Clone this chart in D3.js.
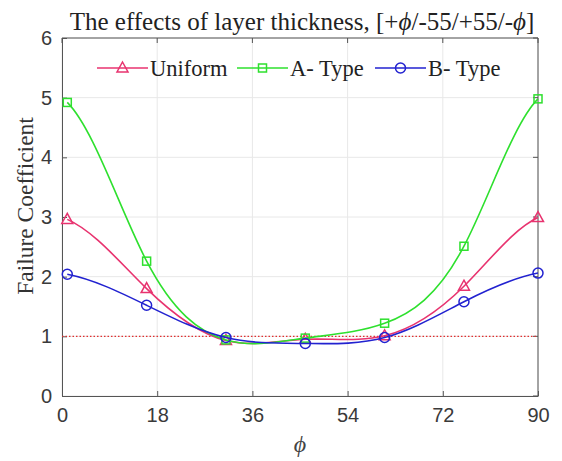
<!DOCTYPE html>
<html><head><meta charset="utf-8">
<script src="https://cdn.jsdelivr.net/npm/d3@7"></script>
<style>body{margin:0;background:#fff}svg{display:block}</style>
</head><body><svg id="c" width="562" height="461"></svg>
<script>
const phi = [1, 16, 31, 46, 61, 76, 90];
const uniform = [2.96, 1.80, 0.93, 0.95, 1.01, 1.84, 2.99];
const aType = [4.92, 2.26, 0.94, 0.97, 1.22, 2.51, 4.98];
const bType = [2.04, 1.52, 0.98, 0.88, 0.98, 1.58, 2.06];
const xTicks = [0, 18, 36, 54, 72, 90];
const yTicks = [0, 1, 2, 3, 4, 5, 6];
const seriesNames = ["Uniform", "A- Type", "B- Type"];
const seriesColors = ["#e8336f", "#2ee02e", "#2222d0"];
const seriesMarkers = ["triangle", "square", "circle"];
const refLine = 1;

// clamped cubic spline curve for d3.line (end slopes = half the end secant slopes)
function ClampedSpline(context) { this._context = context; }
ClampedSpline.prototype = {
  areaStart() {}, areaEnd() {},
  lineStart() { this._x = []; this._y = []; },
  point(x, y) { this._x.push(+x); this._y.push(+y); },
  lineEnd() {
    const X = this._x, Y = this._y, n = X.length, c = this._context;
    if (!n) return;
    c.moveTo(X[0], Y[0]);
    if (n === 1) return;
    const h = [], d = [];
    for (let i = 0; i < n - 1; i++) { h[i] = X[i + 1] - X[i]; d[i] = (Y[i + 1] - Y[i]) / h[i]; }
    const a = new Array(n).fill(0), b = new Array(n).fill(1), cc = new Array(n).fill(0), r = new Array(n).fill(0);
    r[0] = 0.5 * d[0]; r[n - 1] = 0.5 * d[n - 2];
    for (let i = 1; i < n - 1; i++) {
      a[i] = h[i]; b[i] = 2 * (h[i - 1] + h[i]); cc[i] = h[i - 1];
      r[i] = 3 * (h[i] * d[i - 1] + h[i - 1] * d[i]);
    }
    for (let i = 1; i < n; i++) {
      const w = a[i] / b[i - 1];
      b[i] -= w * cc[i - 1]; r[i] -= w * r[i - 1];
    }
    const m = new Array(n);
    m[n - 1] = r[n - 1] / b[n - 1];
    for (let i = n - 2; i >= 0; i--) m[i] = (r[i] - cc[i] * m[i + 1]) / b[i];
    for (let i = 0; i < n - 1; i++) {
      c.bezierCurveTo(X[i] + h[i] / 3, Y[i] + m[i] * h[i] / 3,
                      X[i + 1] - h[i] / 3, Y[i + 1] - m[i + 1] * h[i] / 3,
                      X[i + 1], Y[i + 1]);
    }
  }
};
const curveClamped = ctx => new ClampedSpline(ctx);

const svg = d3.select("#c");
const L = 62, R = 538, T = 38, B = 396;
const x = d3.scaleLinear().domain([0, 90]).range([L, R]);
const y = d3.scaleLinear().domain([0, 6]).range([B, T]);

// grid
const g = svg.append("g");
g.selectAll(".gx").data(xTicks).join("line")
  .attr("x1", d => x(d)).attr("x2", d => x(d)).attr("y1", T).attr("y2", B)
  .attr("stroke", "#e8e8e8").attr("stroke-width", 1);
g.selectAll(".gy").data(yTicks).join("line")
  .attr("x1", L).attr("x2", R).attr("y1", d => y(d)).attr("y2", d => y(d))
  .attr("stroke", "#e8e8e8").attr("stroke-width", 1);

// axes
const axFont = "'Liberation Sans', Arial, sans-serif";
const xa = svg.append("g").attr("transform", `translate(0,${B})`)
  .call(d3.axisBottom(x).tickValues(xTicks).tickFormat(d3.format("d")).tickSizeInner(-5).tickSizeOuter(0).tickPadding(12));
const ya = svg.append("g").attr("transform", `translate(${L},0)`)
  .call(d3.axisLeft(y).tickValues(yTicks).tickFormat(d3.format("d")).tickSizeInner(-5).tickSizeOuter(0).tickPadding(10));
[xa, ya].forEach(a => {
  a.selectAll("text").attr("font-family", axFont).attr("font-size", 20).attr("fill", "#3a3a3a");
  a.selectAll("line").attr("stroke", "#555");
  a.select(".domain").attr("stroke", "#555");
});
svg.append("line").attr("x1", L).attr("x2", R).attr("y1", T).attr("y2", T).attr("stroke", "#555");
svg.append("line").attr("x1", R).attr("x2", R).attr("y1", T).attr("y2", B).attr("stroke", "#555");
svg.selectAll(".tt").data(xTicks).join("line")
  .attr("x1", d => x(d)).attr("x2", d => x(d)).attr("y1", T).attr("y2", T + 5).attr("stroke", "#555");
svg.selectAll(".rt").data(yTicks).join("line")
  .attr("x1", R - 5).attr("x2", R).attr("y1", d => y(d)).attr("y2", d => y(d)).attr("stroke", "#555");

// reference line
svg.append("line").attr("x1", L).attr("x2", R).attr("y1", y(refLine)).attr("y2", y(refLine))
  .attr("stroke", "#e03030").attr("stroke-width", 1.2).attr("stroke-dasharray", "1.5,2");

const allSeries = [uniform, aType, bType];
const line = d3.line().x((d, i) => x(phi[i])).y(d => y(d)).curve(curveClamped);

function marker(sel, type, color, cx, cy) {
  if (type === "triangle") {
    sel.append("path").attr("d", `M${cx},${cy - 6}L${cx + 5.5},${cy + 4}L${cx - 5.5},${cy + 4}Z`)
      .attr("fill", "none").attr("stroke", color).attr("stroke-width", 1.5);
  } else if (type === "square") {
    sel.append("rect").attr("x", cx - 4).attr("y", cy - 4).attr("width", 8).attr("height", 8)
      .attr("fill", "none").attr("stroke", color).attr("stroke-width", 1.5);
  } else {
    sel.append("circle").attr("cx", cx).attr("cy", cy).attr("r", 5)
      .attr("fill", "none").attr("stroke", color).attr("stroke-width", 1.5);
  }
}

allSeries.forEach((s, k) => {
  svg.append("path").datum(s).attr("d", line).attr("fill", "none")
    .attr("stroke", seriesColors[k]).attr("stroke-width", 1.6);
  const mg = svg.append("g");
  s.forEach((v, i) => marker(mg, seriesMarkers[k], seriesColors[k], x(phi[i]), y(v)));
});

// legend
const serif = "'Liberation Serif', 'Times New Roman', serif";
const legX = [97, 237, 375];
seriesNames.forEach((n, k) => {
  const lg = svg.append("g");
  lg.append("line").attr("x1", legX[k]).attr("x2", legX[k] + 51).attr("y1", 68).attr("y2", 68)
    .attr("stroke", seriesColors[k]).attr("stroke-width", 1.6);
  marker(lg, seriesMarkers[k], seriesColors[k], legX[k] + 25.5, 68);
  lg.append("text").attr("x", legX[k] + 53).attr("y", 76).text(n)
    .attr("font-family", serif).attr("font-size", 22.5).attr("fill", "#222");
});

// title
svg.append("text").attr("x", 302).attr("y", 30).attr("text-anchor", "middle")
  .attr("font-family", serif).attr("font-size", 25).attr("fill", "#222")
  .html("The effects of layer thickness, [+<tspan font-style='italic'>ϕ</tspan>/-55/+55/-<tspan font-style='italic'>ϕ</tspan>]");

// y label
svg.append("text").attr("transform", `translate(33,206) rotate(-90)`)
  .attr("text-anchor", "middle").attr("font-family", serif).attr("font-size", 23.5).attr("fill", "#333")
  .text("Failure Coefficient");
// x label
svg.append("text").attr("x", 300).attr("y", 452).attr("text-anchor", "middle")
  .attr("font-family", serif).attr("font-style", "italic").attr("font-size", 24).attr("fill", "#444")
  .text("ϕ");
</script></body></html>
